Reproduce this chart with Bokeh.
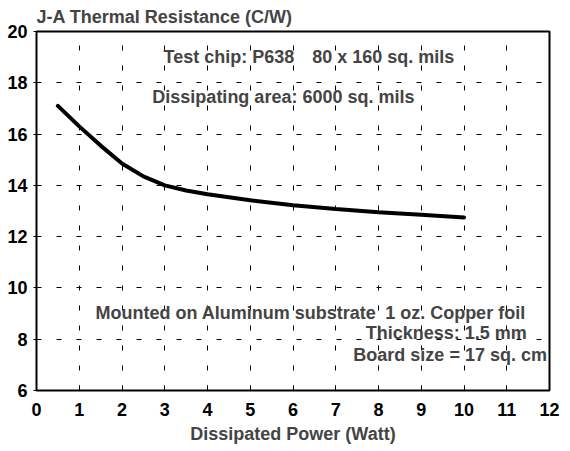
from bokeh.plotting import figure
from bokeh.models import Label, Range1d, FixedTicker, ColumnDataSource
from bokeh.embed import file_html
from bokeh.resources import INLINE

# Data
power_w = [0.5, 1.0, 1.5, 2.0, 2.5, 3.0, 3.5, 4.0, 5.0, 6.0, 7.0, 8.0, 9.0, 10.0]
theta_ja = [17.1, 16.3, 15.55, 14.85, 14.35, 14.0, 13.8, 13.65, 13.42, 13.22, 13.08, 12.95, 12.85, 12.75]
x_ticks = list(range(0, 13))
y_ticks = [6, 8, 10, 12, 14, 16, 18, 20]

FONT = "Liberation Sans"
FS = "18px"

p = figure(width=566, height=447, output_backend="svg", toolbar_location=None,
           x_range=Range1d(0, 12), y_range=Range1d(6, 20),
           min_border_left=36, min_border_right=17, min_border_top=31, min_border_bottom=57)

p.title.text = "J-A Thermal Resistance (C/W)"
p.title.text_font = FONT
p.title.text_font_style = "bold"
p.title.text_font_size = FS
p.title.align = "left"
p.title.standoff = 9

p.outline_line_color = "black"
p.outline_line_width = 2
p.background_fill_color = "white"
p.border_fill_color = "white"

for ax in (p.xaxis[0], p.yaxis[0]):
    ax.axis_line_color = None
    ax.major_label_text_font = FONT
    ax.major_label_text_font_style = "bold"
    ax.major_label_text_font_size = FS
    ax.major_label_text_color = "black"
    ax.minor_tick_line_color = None
    ax.major_tick_line_color = "black"

p.xaxis.ticker = FixedTicker(ticks=x_ticks)
p.yaxis.ticker = FixedTicker(ticks=y_ticks)
p.xaxis.major_tick_in = 5
p.xaxis.major_tick_out = 0
p.xaxis.major_label_standoff = 12
p.yaxis.major_tick_in = 0
p.yaxis.major_tick_out = 3
p.yaxis.major_label_standoff = 6

p.xaxis.axis_label = "Dissipated Power (Watt)"
p.xaxis.axis_label_text_font = FONT
p.xaxis.axis_label_text_font_style = "bold"
p.xaxis.axis_label_text_font_size = FS
p.xaxis.axis_label_standoff = 5

p.xgrid.ticker = FixedTicker(ticks=list(range(1, 12)))
p.ygrid.ticker = FixedTicker(ticks=[8, 10, 12, 14, 16, 18])
for g in (p.xgrid[0], p.ygrid[0]):
    g.grid_line_color = "black"
    g.grid_line_width = 1
    g.grid_line_dash = "5 15"

src = ColumnDataSource(dict(x=power_w, y=theta_ja))
p.line("x", "y", source=src, line_color="black", line_width=4, line_cap="round")

def lab(x, y, t, align="left"):
    p.add_layout(Label(x=x, y=y, text=t, text_font=FONT, text_font_style="bold",
                       text_font_size=FS, text_align=align, text_baseline="middle"))

lab(2.97, 19.02, "Test chip: P638")
lab(6.45, 19.02, "80 x 160 sq. mils")
lab(2.71, 17.46, "Dissipating area: 6000 sq. mils")
lab(1.38, 9.02, "Mounted on Aluminum substrate")
lab(11.43, 9.02, "1 oz. Copper foil", "right")
lab(11.47, 8.24, "Thickness: 1.5 mm", "right")
lab(11.94, 7.38, "Board size = 17 sq. cm", "right")

open("out.html", "w").write(file_html(p, INLINE))
